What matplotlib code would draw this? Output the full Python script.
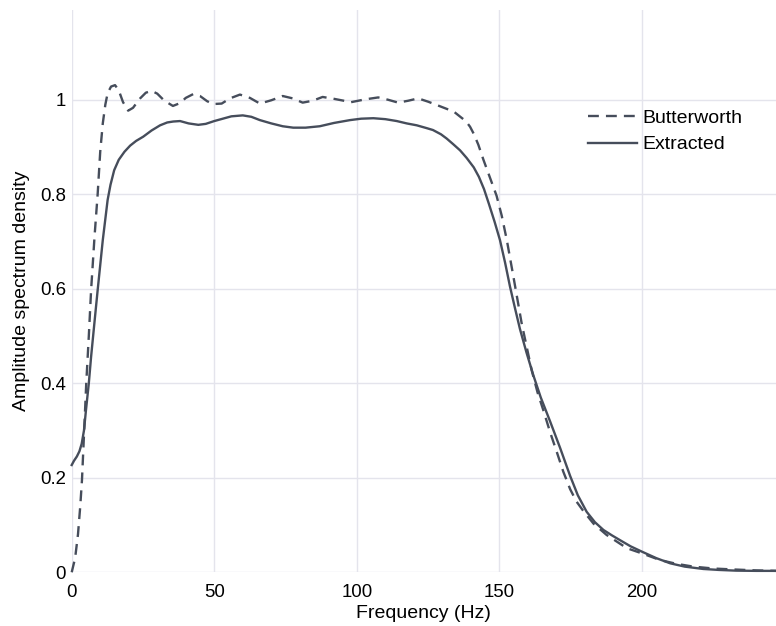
import matplotlib
matplotlib.use("Agg")
from matplotlib import pyplot as plt

plt.rcParams['font.family'] = ['Liberation Sans', 'DejaVu Sans']

# Butterworth band-pass response (dashed)
bw_freq = [0, 1.2, 2.2, 3.0, 3.6, 4.3, 5.1, 6.0, 6.8, 8.0, 9.1, 10.0, 10.9, 11.8, 12.6,
           13.8, 15.2, 16.5, 18.0, 19.8, 21.5, 24, 26, 28, 30, 32.5, 35.5, 38, 40, 42.6,
           45, 47.5, 49.6, 52.6, 55.5, 59, 62.5, 66, 70, 74, 77.5, 81, 84.5, 88, 92, 98,
           103, 107.5, 111, 114.5, 118, 121.5, 125, 128, 131, 134, 136.5, 138.2, 139.7,
           141, 142.6, 144.4, 146.7, 149, 150.8, 152.6, 154.9, 157.8, 161.3, 163.4, 165.4,
           167.8, 170.1, 172.4, 174.8, 177, 179.4, 183, 187.6, 194.7, 200, 206.3, 212,
           218, 225, 232, 240, 247]
bw_amp = [0, 0.03, 0.08, 0.14, 0.195, 0.29, 0.40, 0.50, 0.597, 0.71, 0.80, 0.89, 0.95,
          0.99, 1.014, 1.028, 1.031, 1.02, 0.995, 0.977, 0.983, 1.003, 1.015, 1.019, 1.013,
          0.998, 0.987, 0.993, 1.004, 1.012, 1.008, 0.997, 0.991, 0.992, 1.003, 1.011, 1.004,
          0.992, 0.999, 1.008, 1.003, 0.994, 0.998, 1.006, 1.002, 0.995, 1.001, 1.005, 1.0,
          0.994, 0.998, 1.003, 0.996, 0.989, 0.982, 0.975, 0.963, 0.955, 0.943, 0.928, 0.905,
          0.873, 0.835, 0.797, 0.755, 0.703, 0.626, 0.527, 0.428, 0.38, 0.343, 0.296, 0.255,
          0.213, 0.176, 0.150, 0.130, 0.103, 0.079, 0.051, 0.040, 0.026, 0.018, 0.012, 0.008,
          0.006, 0.004, 0.003]

# extracted filter response (solid)
ex_freq = [0, 0.8, 1.8, 2.7, 3.5, 4.3, 5.0, 6.0, 6.8, 8.0, 9.1, 10.0, 10.9, 11.8, 12.6,
           13.6, 14.9, 16.5, 18.5, 20.5, 22.6, 25.1, 28, 31, 33.5, 35.6, 38, 41, 44.4, 47,
           50, 53, 56, 60, 63, 66, 70, 74, 77.7, 82, 87, 92, 97.6, 101.5, 105.8, 110, 114,
           117.5, 121, 124.5, 126.7, 129.5, 131.5, 133.8, 136.2, 138.5, 141, 142.8, 144.6,
           146.3, 148.3, 150.2, 152, 153.7, 155.5, 157.2, 159.5, 161.9, 164.5, 167.8, 171.3,
           174.8, 177.5, 180.6, 183.5, 186.5, 189.5, 192.3, 196, 200, 205, 209.9, 215,
           221.5, 227, 233, 240, 247]
ex_amp = [0.227, 0.236, 0.245, 0.256, 0.272, 0.30, 0.343, 0.40, 0.456, 0.53, 0.597, 0.65,
          0.703, 0.748, 0.788, 0.82, 0.851, 0.873, 0.89, 0.903, 0.913, 0.922, 0.935, 0.946,
          0.952, 0.954, 0.955, 0.950, 0.947, 0.949, 0.955, 0.960, 0.965, 0.967, 0.964, 0.957,
          0.950, 0.944, 0.941, 0.941, 0.944, 0.951, 0.957, 0.960, 0.961, 0.959, 0.955, 0.950,
          0.946, 0.940, 0.936, 0.927, 0.918, 0.906, 0.893, 0.877, 0.857, 0.837, 0.811, 0.78,
          0.742, 0.703, 0.655, 0.605, 0.558, 0.515, 0.465, 0.417, 0.37, 0.319, 0.263, 0.204,
          0.163, 0.128, 0.106, 0.0895, 0.078, 0.068, 0.055, 0.0436, 0.030, 0.019, 0.012,
          0.007, 0.005, 0.0035, 0.003, 0.003]

x_ticks = [0, 50, 100, 150, 200]
y_ticks = [0, 0.2, 0.4, 0.6, 0.8, 1.0]
y_tick_labels = ['0', '0.2', '0.4', '0.6', '0.8', '1']

line_color = '#464d5b'
grid_color = '#e4e4ec'

fig = plt.figure(figsize=(7.76, 6.26), dpi=100)
ax = fig.add_axes([0.0924, 0.0858, 0.9076, 0.8982])

ax.plot(bw_freq, bw_amp, color=line_color, lw=1.7, linestyle=(0, (4.6, 3.0)),
        label='Butterworth', clip_on=False)
ax.plot(ex_freq, ex_amp, color=line_color, lw=1.7, label='Extracted', clip_on=False)

ax.set_xlim(0, 247)
ax.set_ylim(0, 1.19)
ax.set_xticks(x_ticks)
ax.set_yticks(y_ticks)
ax.set_yticklabels(y_tick_labels)
ax.tick_params(length=0, labelsize=13.4)
ax.tick_params(axis='x', pad=8.5)
ax.tick_params(axis='y', pad=4)
ax.grid(True, color=grid_color, lw=1)
ax.set_axisbelow(True)
for s in ax.spines.values():
    s.set_visible(False)

ax.set_xlabel('Frequency (Hz)', fontsize=14, labelpad=3)
ax.set_ylabel('Amplitude spectrum density', fontsize=14, labelpad=7)

ax.legend(loc='upper left', bbox_to_anchor=(588 / 776, 1 - 109 / 626),
          bbox_transform=fig.transFigure, frameon=False, fontsize=14,
          borderpad=0, borderaxespad=0, handlelength=2.5, handletextpad=0.3,
          labelspacing=0.47)

fig.savefig('out.png', dpi=100)
